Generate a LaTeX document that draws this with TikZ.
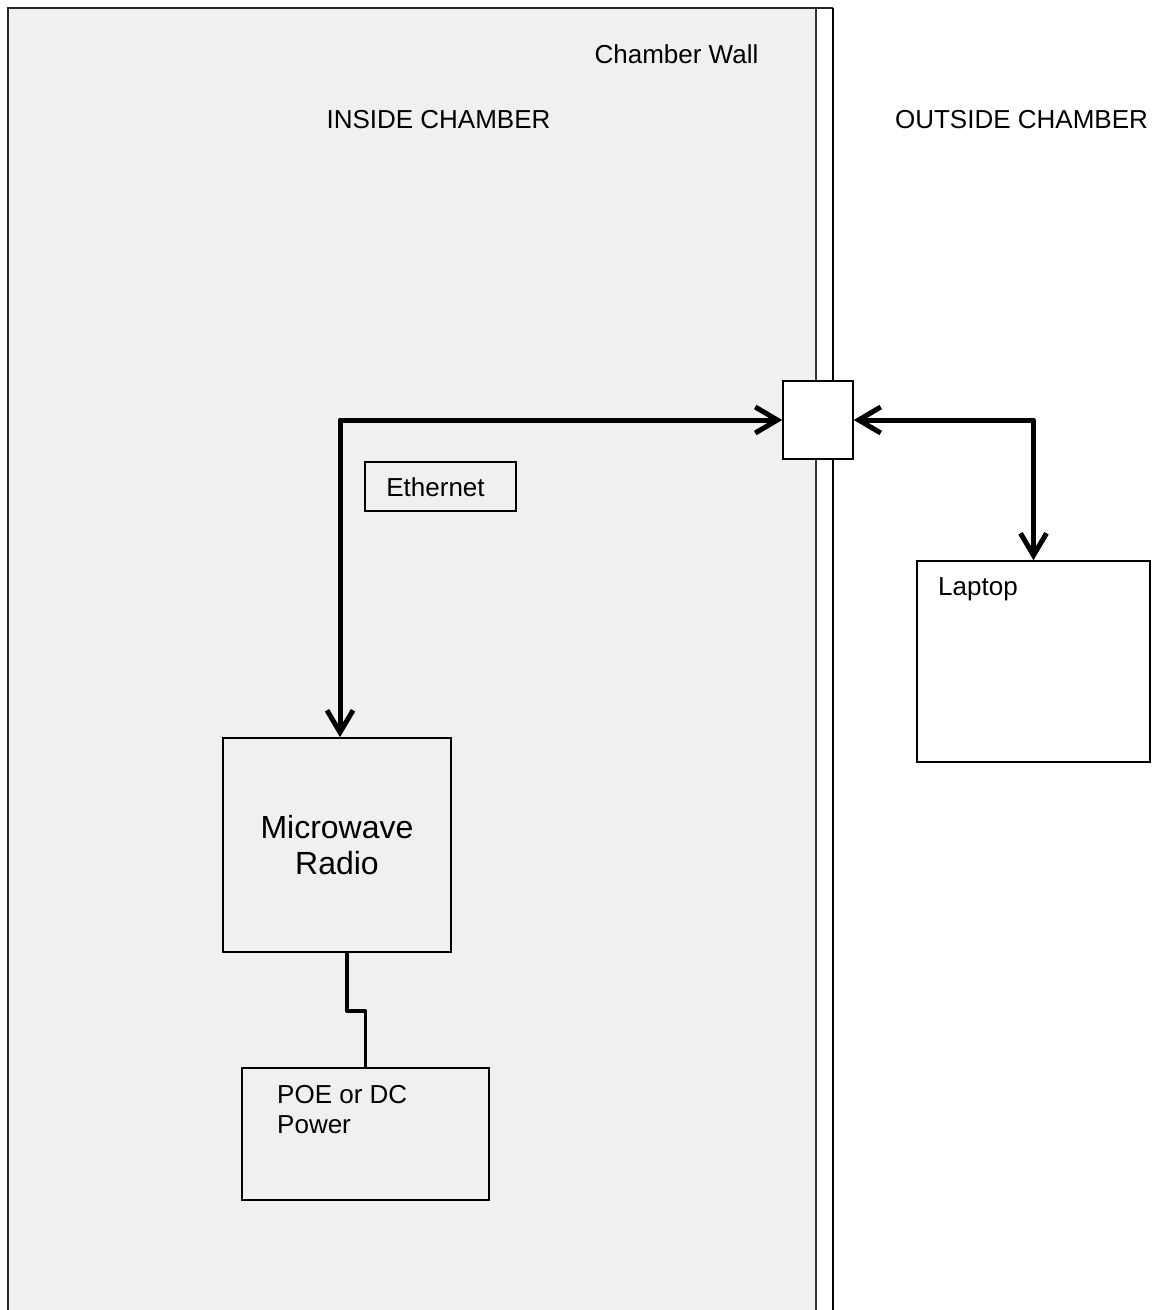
\documentclass[tikz,border=0pt]{standalone}
\usepackage{fontspec}
\setmainfont{Liberation Sans}
\usetikzlibrary{arrows.meta}

\begin{document}
\begin{tikzpicture}[x=1pt,y=-1pt,
  box/.style={draw,line width=1.6pt,inner sep=0pt},
  label/.style={font=\fontsize{26}{30}\selectfont,inner sep=0pt},
  link/.style={line width=5pt,line join=round,
    {Straight Barb[length=22pt,width=26pt,line width=5pt]}-{Straight Barb[length=22pt,width=26pt,line width=5pt]}},
  wire/.style={line width=3.5pt,line join=round}]
\useasboundingbox (0,0) rectangle (1152,1310);

\fill[black!6] (8,8) rectangle (816,1315);
\draw[line width=2.5pt,black!85] (8,1315) -- (8,8) -- (833,8);
\draw[line width=2pt,black!80] (816,8) -- (816,1315);
\draw[line width=2.5pt] (833,8) -- (833,1315);

\node[label] (wall) at (676.5,54) {Chamber Wall};
\node[label] (inside) at (438.5,120) {INSIDE CHAMBER};
\node[label] (outside) at (1021.5,120) {OUTSIDE CHAMBER};

\node[box,fill=white,minimum width=70pt,minimum height=78pt] (conn) at (818,420) {};
\node[box,minimum width=151pt,minimum height=49pt] (eth) at (440.5,486.5) {};
\node[label] (ethtext) at (435.5,487) {Ethernet};

\node[box,minimum width=228pt,minimum height=214pt,align=center,
  font=\fontsize{32}{36}\selectfont] (radio) at (337,845) {Microwave\\Radio};

\node[box,minimum width=247pt,minimum height=132pt] (power) at (365.5,1134) {};
\node[label,anchor=north west,align=left] (powertext) at (277,1085) {POE or DC\\Power};

\node[box,fill=white,minimum width=233pt,minimum height=201pt] (laptop) at (1033.5,661.5) {};
\node[label,anchor=north west] (laptoptext) at (938,577) {Laptop};

\draw[link] (conn.west) -| ([xshift=3pt]radio.north);
\draw[link] (conn.east) -| (laptop.north);
\draw[wire] ([xshift=10pt]radio.south) -- ++(0,58) -| (power.north);
\end{tikzpicture}
\end{document}
